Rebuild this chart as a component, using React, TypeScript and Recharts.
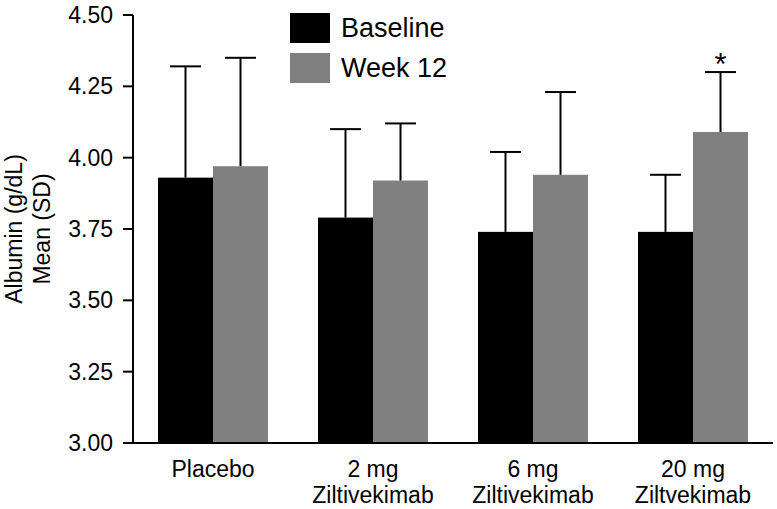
import React from 'react';
import { BarChart, Bar, XAxis, YAxis } from 'recharts';

const categories = ['Placebo', '2 mg Ziltivekimab', '6 mg Ziltivekimab', '20 mg Ziltvekimab'];
const tickLines = [['Placebo'], ['2 mg', 'Ziltivekimab'], ['6 mg', 'Ziltivekimab'], ['20 mg', 'Ziltvekimab']];
const baselineMean = [3.93, 3.79, 3.74, 3.74];
const baselineSD = [0.39, 0.31, 0.28, 0.2];
const week12Mean = [3.97, 3.92, 3.94, 4.09];
const week12SD = [0.38, 0.2, 0.29, 0.21];
const week12Sig = [false, false, false, true];
const yTicks = [3, 3.25, 3.5, 3.75, 4, 4.25, 4.5];

const Y_MIN = 3;
const FONT = '"Liberation Sans", Arial, Helvetica, sans-serif';

const data = categories.map((name, i) => ({
  name,
  baseline: baselineMean[i],
  baselineSD: baselineSD[i],
  week12: week12Mean[i],
  week12SD: week12SD[i],
  sig: week12Sig[i],
}));

// bar + one-sided SD whisker (upper only), scaled from the bar's own pixel height
const makeShape = (meanKey: string, sdKey: string) => (props: any) => {
  const { x, y, width, height, fill, payload } = props;
  const mean = payload[meanKey];
  const perUnit = height / (mean - Y_MIN);
  const cx = x + width / 2;
  const capY = y - payload[sdKey] * perUnit;
  return (
    <g>
      <rect x={x} y={y} width={width} height={height} fill={fill} />
      <line x1={cx} x2={cx} y1={y} y2={capY} stroke="#000" strokeWidth={2} />
      <line x1={cx - 15.5} x2={cx + 15.5} y1={capY} y2={capY} stroke="#000" strokeWidth={2} />
      {sdKey === 'week12SD' && payload.sig && (
        <text x={cx} y={capY + 3} textAnchor="middle" fontSize={31} fontFamily={FONT} fill="#000">*</text>
      )}
    </g>
  );
};

const XTick = (props: any) => {
  const { x, y, payload } = props;
  const lines = tickLines[categories.indexOf(payload.value)] || [payload.value];
  return (
    <text x={x} y={y} textAnchor="middle" fontSize={23} fontFamily={FONT} fill="#000">
      {lines.map((l, i) => (
        <tspan key={i} x={x} y={y + 34 + i * 26}>{l}</tspan>
      ))}
    </text>
  );
};

const YLabel = () => {
  const cy = 229;
  return (
    <g fontSize={23} fontFamily={FONT} fill="#000">
      <text transform={`translate(14, ${cy}) rotate(-90)`} textAnchor="middle" dominantBaseline="central">Albumin (g/dL)</text>
      <text transform={`translate(42, ${cy}) rotate(-90)`} textAnchor="middle" dominantBaseline="central">Mean (SD)</text>
    </g>
  );
};

export default function App() {
  return (
    <div style={{ position: 'relative', width: 777, height: 509, background: '#fff', fontFamily: FONT }}>
      <style>{'body{margin:0}'}</style>
      <BarChart width={777} height={509} data={data} margin={{ top: 15, right: 4, left: 0, bottom: 0 }} barGap={0} barSize={55}>
        <XAxis
          dataKey="name"
          interval={0}
          height={66}
          tickLine={false}
          tickSize={0}
          tickMargin={0}
          axisLine={{ stroke: '#000', strokeWidth: 2 }}
          tick={<XTick />}
        />
        <YAxis
          domain={[3, 4.5]}
          ticks={yTicks}
          interval={0}
          width={133}
          tickSize={10}
          tickMargin={10}
          tickFormatter={(v: number) => v.toFixed(2)}
          axisLine={{ stroke: '#000', strokeWidth: 2 }}
          tickLine={{ stroke: '#000', strokeWidth: 2 }}
          tick={{ fill: '#000', fontSize: 23, fontFamily: FONT }}
          label={{ content: <YLabel /> }}
        />
        <Bar dataKey="baseline" fill="#000000" isAnimationActive={false} shape={makeShape('baseline', 'baselineSD')} />
        <Bar dataKey="week12" fill="#808080" isAnimationActive={false} shape={makeShape('week12', 'week12SD')} />
      </BarChart>
      <div style={{ position: 'absolute', left: 290, top: 13, fontSize: 27, color: '#000', lineHeight: '30px' }}>
        <div style={{ display: 'flex', alignItems: 'center', height: 30, marginBottom: 10 }}>
          <span style={{ width: 40, height: 30, background: '#000', marginRight: 11 }} />
          Baseline
        </div>
        <div style={{ display: 'flex', alignItems: 'center', height: 30 }}>
          <span style={{ width: 40, height: 30, background: '#808080', marginRight: 11 }} />
          Week 12
        </div>
      </div>
    </div>
  );
}
